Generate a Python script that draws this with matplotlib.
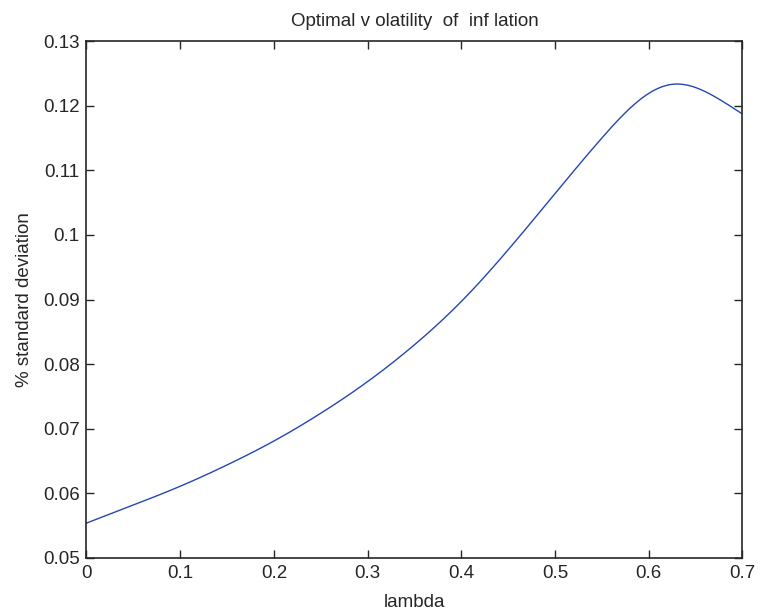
import matplotlib
matplotlib.use("Agg")
import matplotlib.pyplot as plt
import numpy as np

lam = [0.0, 0.05, 0.1, 0.15, 0.2, 0.25, 0.3, 0.35, 0.4, 0.45, 0.5,
       0.55, 0.6, 0.625, 0.65, 0.675, 0.7]
sd = [0.0554, 0.0582, 0.0611, 0.0644, 0.0681, 0.0724, 0.0773, 0.0830, 0.0897,
      0.0977, 0.1064, 0.1150, 0.1219, 0.1233, 0.1228, 0.1210, 0.1187]
xticks = [0, 0.1, 0.2, 0.3, 0.4, 0.5, 0.6, 0.7]
xticklabels = ["0", "0.1", "0.2", "0.3", "0.4", "0.5", "0.6", "0.7"]
yticks = [0.05, 0.06, 0.07, 0.08, 0.09, 0.1, 0.11, 0.12, 0.13]
yticklabels = ["0.05", "0.06", "0.07", "0.08", "0.09", "0.1", "0.11", "0.12", "0.13"]

plt.rcParams['font.family'] = ['Liberation Sans', 'DejaVu Sans']


def natural_spline(x, y, n=600):
    x = np.asarray(x, float); y = np.asarray(y, float)
    m = len(x)
    h = np.diff(x)
    A = np.zeros((m, m)); b = np.zeros(m)
    A[0, 0] = 1; A[-1, -1] = 1
    for i in range(1, m - 1):
        A[i, i - 1] = h[i - 1]
        A[i, i] = 2 * (h[i - 1] + h[i])
        A[i, i + 1] = h[i]
        b[i] = 6 * ((y[i + 1] - y[i]) / h[i] - (y[i] - y[i - 1]) / h[i - 1])
    M = np.linalg.solve(A, b)
    xs = np.linspace(x[0], x[-1], n)
    idx = np.clip(np.searchsorted(x, xs) - 1, 0, m - 2)
    x0 = x[idx]; x1 = x[idx + 1]; hh = x1 - x0
    t0 = x1 - xs; t1 = xs - x0
    ys = (M[idx] * t0**3 / (6 * hh) + M[idx + 1] * t1**3 / (6 * hh)
          + (y[idx] / hh - M[idx] * hh / 6) * t0
          + (y[idx + 1] / hh - M[idx + 1] * hh / 6) * t1)
    return xs, ys


fig = plt.figure(figsize=(7.62, 6.15), dpi=100)
ax = fig.add_axes([0.1135, 0.0927, 0.8609, 0.8406])

cx, cy = natural_spline(lam, sd)
ax.plot(cx, cy, color='#2546b4', linewidth=1.0)

ax.set_xlim(0, 0.7)
ax.set_ylim(0.05, 0.13)
ax.set_xticks(xticks)
ax.set_xticklabels(xticklabels)
ax.set_yticks(yticks)
ax.set_yticklabels(yticklabels)
ax.tick_params(direction='in', length=5.5, width=1, top=True, right=True,
               labelsize=13.5, colors='#262626', pad=5)
for s in ax.spines.values():
    s.set_linewidth(1.2)
    s.set_color('#262626')

ax.set_title("Optimal v olatility  of  inf lation", fontsize=13.5, color='#262626', pad=11)
ax.set_xlabel("lambda", fontsize=13.5, color='#262626', labelpad=9)
ax.set_ylabel("% standard deviation", fontsize=13.5, color='#262626', labelpad=7)

fig.savefig("out.png", dpi=100, facecolor='white')
